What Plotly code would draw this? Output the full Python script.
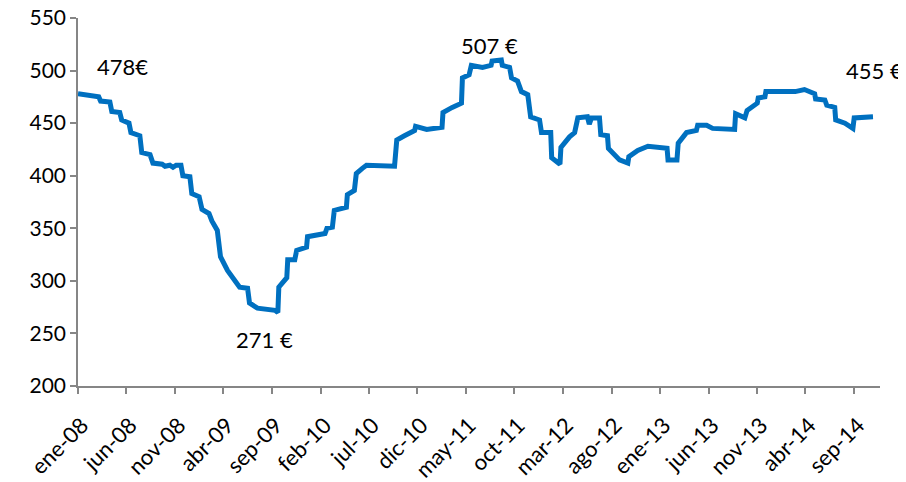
import plotly.graph_objects as go

dates = [
    "2008-01-01", "2008-02-08", "2008-03-06", "2008-03-12", "2008-04-10", "2008-04-16",
    "2008-05-11", "2008-05-17", "2008-06-09", "2008-06-15", "2008-07-13", "2008-07-19",
    "2008-08-14", "2008-08-23", "2008-09-21", "2008-09-30", "2008-10-15", "2008-10-25",
    "2008-11-04", "2008-11-19", "2008-11-25", "2008-12-17", "2008-12-23", "2009-01-15",
    "2009-01-24", "2009-02-15", "2009-02-24", "2009-03-13", "2009-03-23", "2009-04-14",
    "2009-05-22", "2009-06-16", "2009-06-22", "2009-07-17", "2009-09-10", "2009-09-19",
    "2009-09-22", "2009-10-17", "2009-10-20", "2009-11-11", "2009-11-17", "2009-12-18",
    "2009-12-21", "2010-02-14", "2010-02-20", "2010-03-09", "2010-03-15", "2010-04-22",
    "2010-04-25", "2010-05-17", "2010-05-23", "2010-06-11", "2010-06-24", "2010-09-20",
    "2010-09-27", "2010-10-21", "2010-11-22", "2010-11-25", "2010-12-30", "2011-02-16",
    "2011-02-19", "2011-03-20", "2011-04-18", "2011-04-21", "2011-05-12", "2011-05-19",
    "2011-06-23", "2011-07-20", "2011-07-23", "2011-08-21", "2011-08-24", "2011-09-16",
    "2011-09-22", "2011-10-11", "2011-10-23", "2011-11-12", "2011-11-21", "2011-12-19",
    "2011-12-25", "2012-01-23", "2012-01-26", "2012-02-21", "2012-02-24", "2012-03-22",
    "2012-04-07", "2012-04-17", "2012-05-17", "2012-05-23", "2012-05-30", "2012-06-24",
    "2012-06-28", "2012-07-19", "2012-07-22", "2012-08-26", "2012-09-21", "2012-09-24",
    "2012-10-22", "2012-11-23", "2013-01-22", "2013-01-25", "2013-02-22", "2013-02-26",
    "2013-03-24", "2013-04-24", "2013-04-28", "2013-05-26", "2013-06-14", "2013-08-22",
    "2013-08-25", "2013-09-23", "2013-09-30", "2013-11-01", "2013-11-04", "2013-11-25",
    "2013-11-28", "2014-02-28", "2014-03-29", "2014-04-30", "2014-05-03", "2014-06-01",
    "2014-06-07", "2014-07-02", "2014-07-05", "2014-08-03", "2014-08-28", "2014-09-01",
    "2014-09-25", "2014-09-28", "2014-10-30",
]
prices = [
    478, 476, 475, 471, 470, 461,
    460, 453, 450, 441, 438, 422,
    420, 412, 411, 409, 410, 408,
    410, 410, 400, 399, 383, 380,
    368, 364, 357, 348, 323, 310,
    294, 293, 279, 274, 272, 270,
    294, 303, 320, 320, 329, 332,
    342, 345, 350, 351, 367, 370,
    382, 386, 402, 407, 410, 409,
    434, 438, 443, 447, 444, 446,
    460, 465, 469, 493, 496, 505,
    503, 505, 509, 510, 505, 503,
    493, 490, 480, 477, 456, 453,
    441, 441, 417, 411, 427, 437,
    441, 455, 456, 449, 455, 455,
    439, 438, 426, 415, 412, 418,
    424, 428, 426, 415, 415, 431,
    441, 443, 448, 448, 445, 444,
    459, 455, 462, 469, 474, 475,
    480, 480, 482, 478, 473, 472,
    467, 465, 453, 450, 445, 455,
    455, 456, 456,
]

tick_dates = [
    "2008-01-01", "2008-06-01", "2008-11-01", "2009-04-01", "2009-09-01", "2010-02-01",
    "2010-07-01", "2010-12-01", "2011-05-01", "2011-10-01", "2012-03-01", "2012-08-01",
    "2013-01-01", "2013-06-01", "2013-11-01", "2014-04-01", "2014-09-01",
]
tick_labels = [
    "ene-08", "jun-08", "nov-08", "abr-09", "sep-09", "feb-10",
    "jul-10", "dic-10", "may-11", "oct-11", "mar-12", "ago-12",
    "ene-13", "jun-13", "nov-13", "abr-14", "sep-14",
]

label_dates = ["2008-05-20", "2011-07-15", "2009-08-09", "2014-11-05"]
label_values = [504, 524, 244, 500.5]
label_texts = ["478€", "507 €", "271 €", "455 €"]

FONT = "Lato"
TICKFONT = "Liberation Sans Narrow, Lato"

fig = go.Figure()
fig.add_trace(go.Scatter(
    x=dates, y=prices, mode="lines",
    line=dict(color="#0070C0", width=5),
    hoverinfo="skip", showlegend=False,
))

for d, v, t in zip(label_dates, label_values, label_texts):
    fig.add_annotation(x=d, y=v, text=t, showarrow=False,
                       font=dict(family=FONT, size=22, color="#000000"))

fig.update_layout(
    width=898, height=474,
    margin=dict(l=70, r=26, t=10, b=96, pad=0, autoexpand=False),
    paper_bgcolor="white", plot_bgcolor="white",
    font=dict(family=FONT, size=18, color="#000000"),
    showlegend=False,
)
fig.update_xaxes(
    type="date", range=["2008-01-01", "2014-11-21"], automargin=False,
    tickmode="array", tickvals=tick_dates, ticktext=tick_labels,
    tickangle=-45, showgrid=False, zeroline=False,
    showline=True, linecolor="#868686", linewidth=1.5,
    ticks="outside", ticklen=6, tickcolor="#868686", tickwidth=1.5,
    ticklabeloverflow="allow", ticklabelstandoff=10, ticklabelshift=4,
    tickfont=dict(family=TICKFONT, size=22, color="#000000"),
)
fig.update_yaxes(
    range=[200, 550], dtick=50, tick0=200, automargin=False,
    showgrid=False, zeroline=False,
    showline=True, linecolor="#868686", linewidth=1.5,
    ticks="outside", ticklen=6, tickcolor="#868686", tickwidth=1.5,
    ticklabeloverflow="allow",
    tickfont=dict(family=TICKFONT, size=21, color="#000000"),
)

fig.write_html("out.html")
